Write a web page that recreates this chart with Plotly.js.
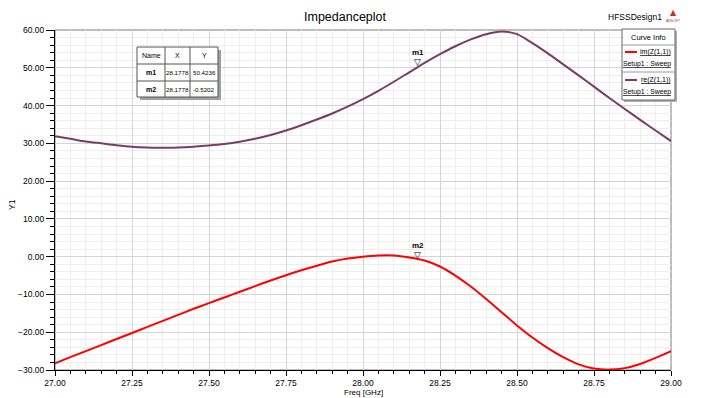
<!DOCTYPE html>
<html><head><meta charset="utf-8">
<script src="https://cdn.plot.ly/plotly-3.0.1.min.js"></script>
<style>html,body{margin:0;padding:0;background:#fff}#c{width:701px;height:398px}</style>
</head><body><div id="c"></div>
<script>
const freq = [27.00,27.05,27.10,27.15,27.20,27.25,27.30,27.35,27.40,27.45,27.50,27.55,27.60,27.65,27.70,27.75,27.80,27.85,27.90,27.95,28.00,28.05,28.10,28.15,28.20,28.25,28.30,28.35,28.40,28.45,28.50,28.55,28.60,28.65,28.70,28.75,28.80,28.85,28.90,28.95,29.00];
const imZ = [-28.2,-26.6,-25.0,-23.4,-21.8,-20.2,-18.6,-17.0,-15.4,-13.8,-12.3,-10.8,-9.3,-7.8,-6.3,-4.9,-3.6,-2.4,-1.3,-0.5,0.0,0.3,0.3,-0.2,-1.0,-2.6,-5.0,-7.9,-11.2,-14.7,-18.2,-21.4,-24.2,-26.6,-28.5,-29.6,-29.9,-29.5,-28.4,-26.8,-25.0];
const reZ = [31.9,31.2,30.5,30.0,29.5,29.1,28.9,28.8,28.9,29.1,29.4,29.8,30.4,31.2,32.2,33.4,34.8,36.3,37.9,39.7,41.7,43.9,46.3,48.8,51.3,53.6,55.7,57.5,58.9,59.6,58.9,56.5,53.8,50.9,48.0,45.0,42.0,39.1,36.2,33.4,30.6];
const markerNames = ['m1','m2'];
const markerX = [28.1778,28.1778];
const markerY = [50.4236,-0.5202];
const markerXText = ['28.1778','28.1778'];
const markerYText = ['50.4236','-0.5202'];
const curveNames = ['im(Z(1,1))','re(Z(1,1))'];
const curveColors = ['#ff0000','#7b3b66'];

const L=55,R=30,T=30,B=28,W=701,H=398;
const pw=W-L-R, ph=H-T-B;
const px=x=>(x-L)/pw, py=y=>(H-B-y)/ph;
const FONT='Liberation Sans, Arial, sans-serif';

const traces=[
 {x:freq,y:imZ,type:'scatter',mode:'lines',line:{color:curveColors[0],width:2,shape:'spline',smoothing:0.8},showlegend:false,hoverinfo:'skip'},
 {x:freq,y:reZ,type:'scatter',mode:'lines',line:{color:curveColors[1],width:2,shape:'spline',smoothing:0.8},showlegend:false,hoverinfo:'skip'}
];

const shapes=[], ann=[];
function pa(x,y,text,size,opt){
  ann.push(Object.assign({xref:'paper',yref:'paper',x:px(x),y:py(y),text:text,showarrow:false,
    xanchor:'center',yanchor:'middle',font:{family:FONT,size:size,color:'#000'}},opt||{}));
}
// plot frame (top / right)
shapes.push({type:'rect',xref:'paper',yref:'paper',x0:0,x1:1,y0:0,y1:1,line:{color:'#7a7a7a',width:1},layer:'below'});
// marker annotations (data coordinates)
for(let i=0;i<2;i++){
  ann.push({xref:'x',yref:'y',x:markerX[i],y:markerY[i],text:'▽',showarrow:false,xanchor:'center',yanchor:'bottom',yshift:-3,font:{family:'DejaVu Sans',size:9,color:'#000'}});
  ann.push({xref:'x',yref:'y',x:markerX[i],y:markerY[i],text:'<b>'+markerNames[i]+'</b>',showarrow:false,xanchor:'center',yanchor:'bottom',yshift:7,font:{family:FONT,size:8,color:'#000'}});
}
// table
const tb={x0:137,x1:218,y0:47,y1:97}, cx=[137,165,190,218], ry=[47,64,81,97];
shapes.push({type:'rect',xref:'paper',yref:'paper',x0:px(tb.x0+3),x1:px(tb.x1+3),y0:py(tb.y0+3),y1:py(tb.y1+3),fillcolor:'#a0a0a0',line:{width:0}});
shapes.push({type:'rect',xref:'paper',yref:'paper',x0:px(tb.x0),x1:px(tb.x1),y0:py(tb.y0),y1:py(tb.y1),fillcolor:'#fff',line:{color:'#555',width:1}});
for(let i=1;i<3;i++) shapes.push({type:'line',xref:'paper',yref:'paper',x0:px(cx[i]),x1:px(cx[i]),y0:py(tb.y0),y1:py(tb.y1),line:{color:'#555',width:1}});
for(let i=1;i<3;i++) shapes.push({type:'line',xref:'paper',yref:'paper',x0:px(tb.x0),x1:px(tb.x1),y0:py(ry[i]),y1:py(ry[i]),line:{color:'#555',width:1}});
const hdr=['Name','X','Y'];
for(let c=0;c<3;c++) pa((cx[c]+cx[c+1])/2,(ry[0]+ry[1])/2,hdr[c],7);
for(let r=0;r<2;r++){
  const yy=(ry[r+1]+ry[r+2])/2;
  pa((cx[0]+cx[1])/2,yy,'<b>'+markerNames[r]+'</b>',7);
  pa((cx[1]+cx[2])/2,yy,markerXText[r],6.2);
  pa((cx[2]+cx[3])/2,yy,markerYText[r],6.2);
}
// legend box
const lg={x0:622,x1:675,y0:29,y1:100};
shapes.push({type:'rect',xref:'paper',yref:'paper',x0:px(lg.x0+2),x1:px(lg.x1+2),y0:py(lg.y0+2),y1:py(lg.y1+2),fillcolor:'#b0b0b0',line:{width:0}});
shapes.push({type:'rect',xref:'paper',yref:'paper',x0:px(lg.x0),x1:px(lg.x1),y0:py(lg.y0),y1:py(lg.y1),fillcolor:'#fff',line:{color:'#666',width:1}});
shapes.push({type:'line',xref:'paper',yref:'paper',x0:px(lg.x0),x1:px(lg.x1),y0:py(45),y1:py(45),line:{color:'#999',width:1}});
shapes.push({type:'line',xref:'paper',yref:'paper',x0:px(lg.x0),x1:px(lg.x1),y0:py(72),y1:py(72),line:{color:'#999',width:1}});
pa(648.5,37,'Curve Info',7.5);
const ly=[52,80];
for(let i=0;i<2;i++){
  shapes.push({type:'line',xref:'paper',yref:'paper',x0:px(625),x1:px(637),y0:py(ly[i]),y1:py(ly[i]),line:{color:curveColors[i],width:2}});
  pa(673,ly[i],'<u>'+curveNames[i]+'</u>',7,{xanchor:'right'});
  pa(673,ly[i]+12,'<u>Setup1 : Sweep</u>',6.8,{xanchor:'right'});
}
// title + design name + axis titles
pa(345,17,'Impedanceplot',12.5);
pa(664,17,'HFSSDesign1',8.5,{xanchor:'right'});
pa(673,13,'▲',8,{font:{family:'DejaVu Sans',size:8,color:'#c0302a'}});
pa(673,21,'ANSOFT',3.5,{font:{family:FONT,size:3.5,color:'#c0302a'}});
pa(12,205,'Y1',8.5,{textangle:-90});
pa(363,392.5,'Freq [GHz]',8);

const layout={
  width:W,height:H,margin:{l:L,r:R,t:T,b:B},
  paper_bgcolor:'#fff',plot_bgcolor:'#fff',
  font:{family:FONT,size:8.5,color:'#000'},
  xaxis:{range:[27,29],dtick:0.25,tick0:27,tickformat:'.2f',showgrid:true,gridcolor:'#d4d4d4',gridwidth:1,
    ticks:'outside',ticklen:5,tickcolor:'#000',showline:true,linecolor:'#000',linewidth:1,zeroline:false,
    minor:{dtick:0.05,showgrid:true,gridcolor:'#eeeeee',ticks:'outside',ticklen:3,tickcolor:'#000'},
    tickfont:{family:FONT,size:8.5}},
  yaxis:{range:[-30,60],dtick:10,tick0:0,tickformat:'.2f',showgrid:true,gridcolor:'#d4d4d4',gridwidth:1,
    ticks:'outside',ticklen:8,tickcolor:'#000',showline:true,linecolor:'#000',linewidth:1,zeroline:false,
    minor:{dtick:2,showgrid:true,gridcolor:'#eeeeee',ticks:'outside',ticklen:4,tickcolor:'#000'},
    tickfont:{family:FONT,size:8.5}},
  shapes:shapes,annotations:ann,showlegend:false
};
Plotly.newPlot('c',traces,layout,{displayModeBar:false,staticPlot:true});
</script></body></html>
